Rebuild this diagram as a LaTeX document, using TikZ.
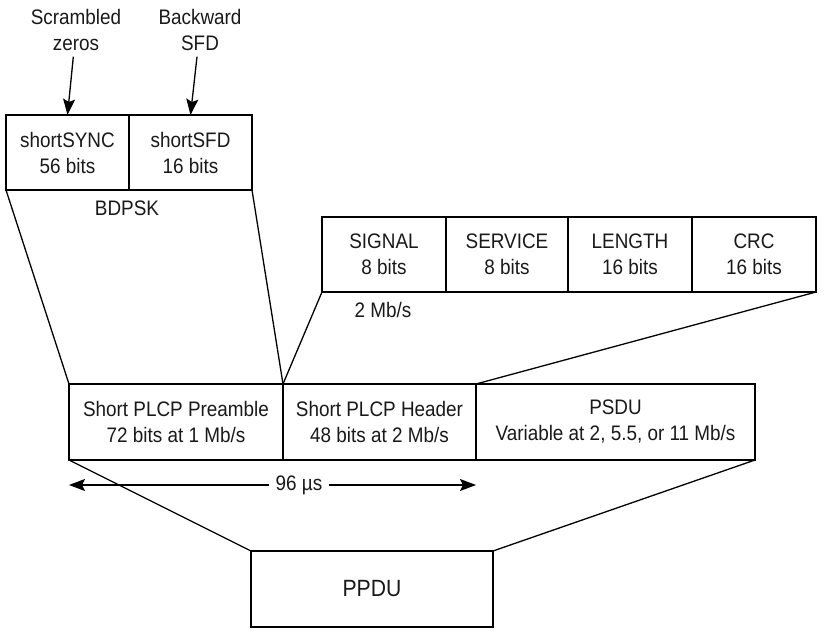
\documentclass[tikz,border=0pt]{standalone}
\usepackage{fontspec}
\setmainfont{Liberation Sans}[FakeStretch=0.9]
\usetikzlibrary{positioning,arrows.meta}

\tikzset{
  field/.style={draw,minimum height=75pt,inner sep=0pt,outer sep=0pt,align=center},
  tip/.style={-{Stealth[length=16pt,width=12pt,inset=3pt]}}
}

\begin{document}
\begin{tikzpicture}[x=1pt,y=-1pt,line width=1.3pt,font=\fontsize{21}{26}\selectfont,text=black!90]
\useasboundingbox (0,0) rectangle (827,644);

% BDPSK part
\node[field,minimum width=123pt,anchor=north west](sync) at (6,115){shortSYNC\\56 bits};
\node[field,minimum width=123pt](sfd)[right=0pt of sync]{shortSFD\\16 bits};
\node(bdpsk) at (127,208){BDPSK};
\node[align=center](scr) at (76,30){Scrambled\\zeros};
\node[align=center](bsfd) at (200,30){Backward\\SFD};

% header fields
\node[field,minimum width=124pt,anchor=north west](signal) at (322,217){SIGNAL\\8 bits};
\node[field,minimum width=122pt](service)[right=0pt of signal]{SERVICE\\8 bits};
\node[field,minimum width=124pt](length)[right=0pt of service]{LENGTH\\16 bits};
\node[field,minimum width=124pt](crc)[right=0pt of length]{CRC\\16 bits};
\node(rate) at (383,310){2 Mb/s};

% PLCP frame
\node[field,minimum width=214pt,minimum height=76pt,anchor=north west](pre) at (69,384){Short PLCP Preamble\\72 bits at 1 Mb/s};
\node[field,minimum width=193pt,minimum height=76pt](hdr)[right=0pt of pre]{Short PLCP Header\\48 bits at 2 Mb/s};
\node[field,minimum width=279pt,minimum height=76pt](psdu)[right=0pt of hdr]{PSDU\\Variable at 2, 5.5, or 11 Mb/s};
\node[inner sep=6pt](time) at (299,485){96 µs};
\coordinate(tl) at ([yshift=-25pt]pre.south west);
\coordinate(tr) at ([yshift=-25pt]hdr.south east);

\node[field,minimum width=242pt,minimum height=76pt,anchor=north west,font=\fontsize{23.5}{28}\selectfont](ppdu) at (251,551){PPDU};

\path[draw](sync.south west)edge(pre.north west)
	(sfd.south east)edge(pre.north east)
	(signal.south west)edge(hdr.north west)
	(crc.south east)edge(hdr.north east)
	(pre.south west)edge(ppdu.north west)
	(psdu.south east)edge(ppdu.north east);

\path(scr)edge[tip,shorten <=2pt](sync.north)
	(bsfd)edge[tip,shorten <=2pt](sfd.north)
	(time)edge[tip](tl)
	(time)edge[tip](tr);

\end{tikzpicture}
\end{document}
